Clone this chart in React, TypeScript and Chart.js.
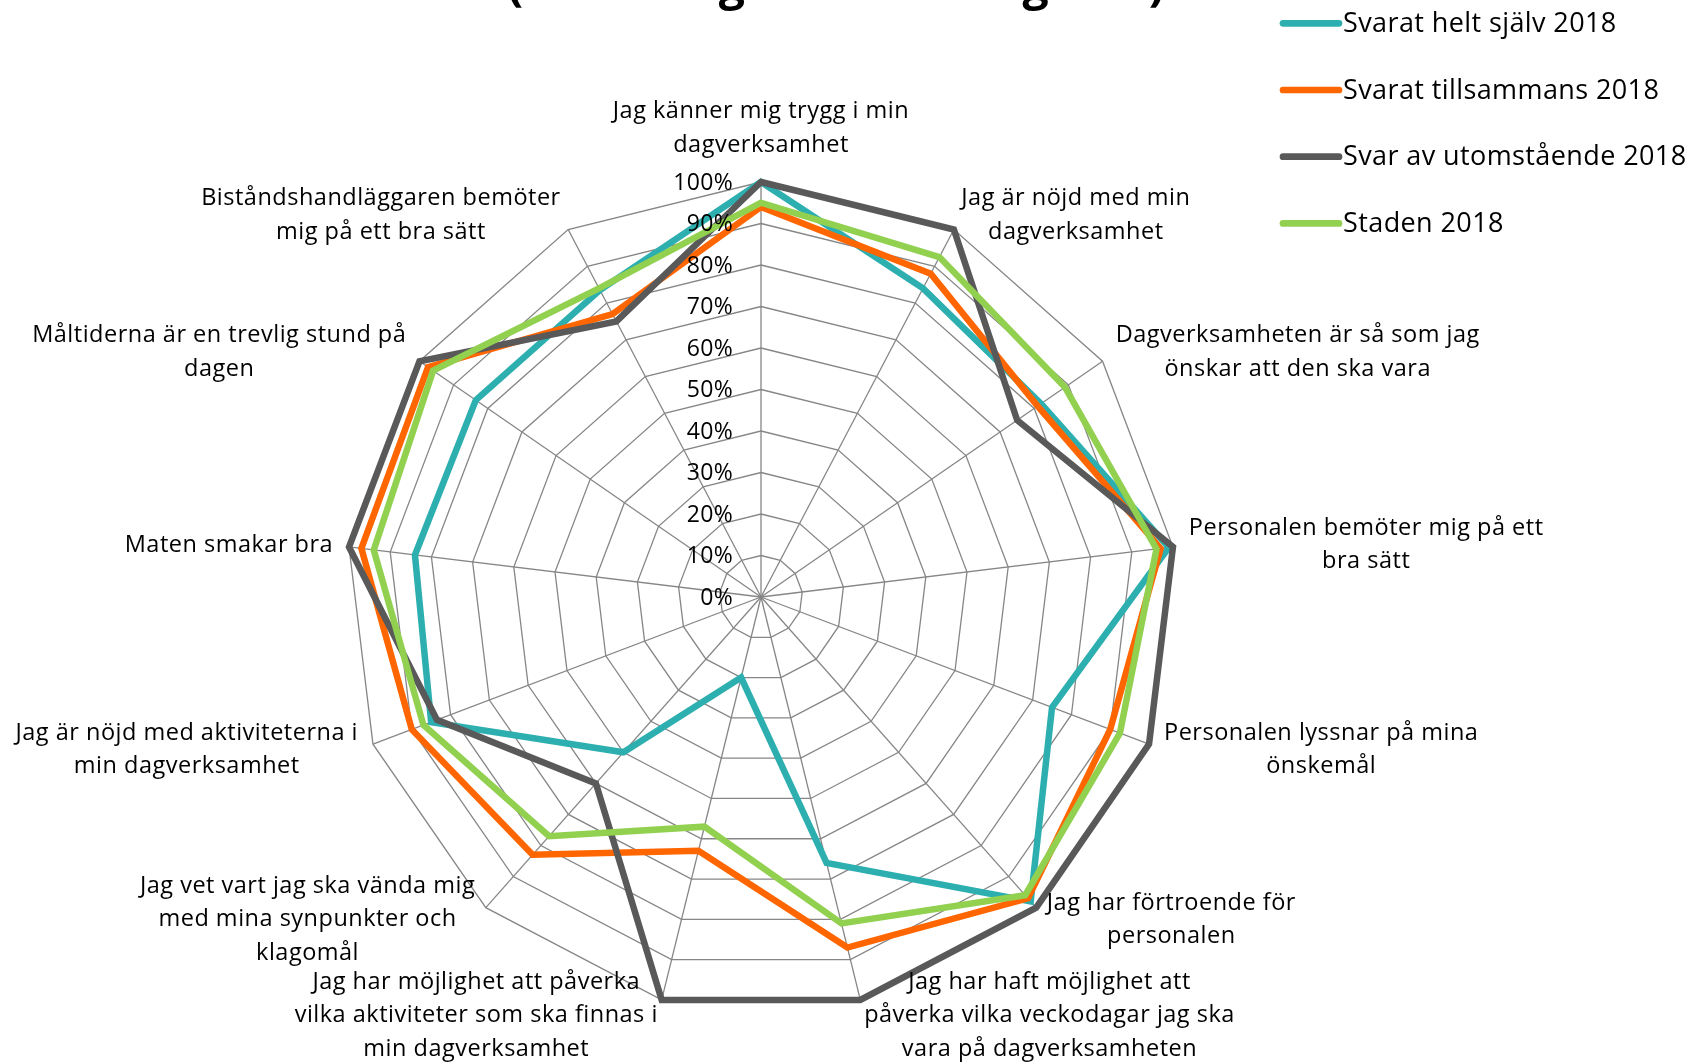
import React, { useEffect, useRef } from 'react';
import { Chart, registerables } from 'chart.js';

Chart.register(...registerables);

// ---- Data ----
const categories: string[][] = [
  ['Jag känner mig trygg i min', 'dagverksamhet'],
  ['Jag är nöjd med min', 'dagverksamhet'],
  ['Dagverksamheten är så som jag', 'önskar att den ska vara'],
  ['Personalen bemöter mig på ett', 'bra sätt'],
  ['Personalen lyssnar på mina', 'önskemål'],
  ['Jag har förtroende för', 'personalen'],
  ['Jag har haft möjlighet att', 'påverka vilka veckodagar jag ska', 'vara på dagverksamheten'],
  ['Jag har möjlighet att påverka', 'vilka aktiviteter som ska finnas i', 'min dagverksamhet'],
  ['Jag vet vart jag ska vända mig', 'med mina synpunkter och', 'klagomål'],
  ['Jag är nöjd med aktiviteterna i', 'min dagverksamhet'],
  ['Maten smakar bra'],
  ['Måltiderna är en trevlig stund på', 'dagen'],
  ['Biståndshandläggaren bemöter', 'mig på ett bra sätt'],
];

const seriesNames = [
  'Svarat helt själv 2018',
  'Svarat tillsammans 2018',
  'Svar av utomstående 2018',
  'Staden 2018',
];

const svaratHeltSjalv = [100, 84, 82, 99, 75, 98, 66, 20, 50, 85, 84, 83.5, 83.5];
const svaratTillsammans = [94, 88, 81, 97, 90, 97, 87, 63, 83, 90, 97, 97.5, 77];
const svarAvUtomstaende = [100, 100, 75, 100, 100, 100, 100, 100, 60, 83.5, 100, 100, 75];
const staden = [95, 92.5, 89, 96, 92.5, 96, 81, 57, 77, 87, 94, 96, 84];

const tickValues = [0, 10, 20, 30, 40, 50, 60, 70, 80, 90, 100];
const tickLabels = ['0%', '10%', '20%', '30%', '40%', '50%', '60%', '70%', '80%', '90%', '100%'];

const titleText = '(Stadens genomsnitt i grönt)';

// ---- Styles ----
const colors = ['#2DAFB0', '#FF6600', '#595959', '#92D050'];
const FONT = '"Open Sans", "Noto Sans", sans-serif';

const overlayPlugin = {
  id: 'overlay',
  afterDatasetsDraw(chart: any) {
    const ctx = chart.ctx;
    const scale = chart.scales.r;
    ctx.save();
    ctx.font = `23px ${FONT}`;
    (ctx as any).letterSpacing = '0.3px';
    ctx.fillStyle = '#000';
    ctx.textAlign = 'right';
    ctx.textBaseline = 'middle';
    tickValues.forEach((v, k) => {
      const d = scale.getDistanceFromCenterForValue(v);
      ctx.fillText(tickLabels[k], scale.xCenter - 28, scale.yCenter - d + 1);
    });
    ctx.restore();
  },
  afterDraw(chart: any) {
    const ctx = chart.ctx;
    const scale = chart.scales.r;
    ctx.save();
    // point labels
    ctx.font = `23.5px ${FONT}`;
    (ctx as any).letterSpacing = '0.5px';
    ctx.fillStyle = '#000';
    ctx.textAlign = 'center';
    ctx.textBaseline = 'middle';
    const lineH = 33.5;
    categories.forEach((lines, i) => {
      const p = scale.getPointPositionForValue(i, 100);
      const dx = Math.cos(p.angle);
      const dy = Math.sin(p.angle);
      const gap = Math.abs(dx) < 0.05 ? 20 : 16;
      const ax = p.x + dx * gap;
      const ay = p.y + dy * gap;
      const boxH = lines.length * lineH;
      const boxW = Math.max(...lines.map((l) => ctx.measureText(l).width));
      let cx: number;
      let cy: number;
      if (Math.abs(dx) < 0.05) {
        cx = ax;
        cy = dy < 0 ? ay - boxH / 2 : ay + boxH / 2;
      } else {
        cx = dx > 0 ? ax + boxW / 2 : ax - boxW / 2;
        cy = ay;
      }
      lines.forEach((l, k) => {
        ctx.fillText(l, cx, cy + (k - (lines.length - 1) / 2) * lineH);
      });
    });

    // legend
    ctx.font = `27px ${FONT}`;
    (ctx as any).letterSpacing = '0.4px';
    ctx.textAlign = 'left';
    seriesNames.forEach((name, k) => {
      const y = 23.3 + k * 66.7;
      ctx.strokeStyle = colors[k];
      ctx.lineWidth = 6.7;
      ctx.lineCap = 'round';
      ctx.beginPath();
      ctx.moveTo(1283, y);
      ctx.lineTo(1339, y);
      ctx.stroke();
      ctx.fillStyle = '#000';
      ctx.fillText(name, 1343, y + 1);
    });

    // title (cut off at top, as in the reference)
    (ctx as any).letterSpacing = '0px';
    ctx.font = `bold 30px ${FONT}`;
    const w = ctx.measureText(titleText).width;
    const size = (30 * 657) / w;
    ctx.font = `bold ${size}px ${FONT}`;
    ctx.textAlign = 'center';
    ctx.textBaseline = 'alphabetic';
    ctx.fillText(titleText, 836, 0);
    ctx.restore();
  },
};

export default function App() {
  const ref = useRef<HTMLCanvasElement | null>(null);

  useEffect(() => {
    if (!ref.current) return;
    const data = [svaratHeltSjalv, svaratTillsammans, svarAvUtomstaende, staden];
    const order = [4, 3, 2, 1];
    const chart = new Chart(ref.current, {
      type: 'radar',
      data: {
        labels: categories.map((c) => c.join(' ')),
        datasets: data.map((d, k) => ({
          label: seriesNames[k],
          data: d,
          borderColor: colors[k],
          backgroundColor: colors[k],
          borderWidth: 6.5,
          borderJoinStyle: 'miter' as const,
          fill: false,
          pointRadius: 0,
          pointHoverRadius: 0,
          tension: 0,
          order: order[k],
        })),
      },
      options: {
        responsive: false,
        animation: false,
        events: [],
        layout: { padding: { left: 346, right: 516, top: 182, bottom: 52 } },
        plugins: {
          legend: { display: false },
          title: { display: false },
          tooltip: { enabled: false },
        },
        scales: {
          r: {
            min: 0,
            max: 100,
            ticks: { display: false, stepSize: 10 },
            pointLabels: { display: false },
            grid: { color: '#868686', lineWidth: 1.3 },
            angleLines: { color: '#868686', lineWidth: 1.3 },
          },
        },
      },
      plugins: [overlayPlugin],
    });
    return () => chart.destroy();
  }, []);

  return (
    <div style={{ position: 'fixed', left: 0, top: 0, width: 1692, height: 1064, background: '#fff' }}>
      <canvas ref={ref} width={1692} height={1064} style={{ display: 'block' }} />
    </div>
  );
}
